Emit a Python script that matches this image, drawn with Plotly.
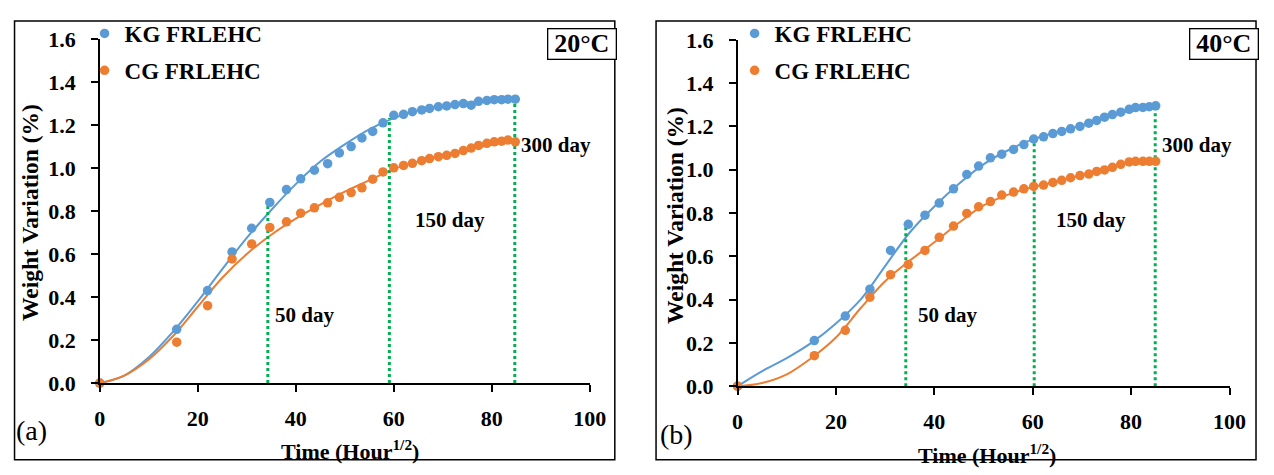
import plotly.graph_objects as go

W, H = 1274, 475
FONT = "Liberation Serif"
BLUE = "#5B9BD5"
ORANGE = "#ED7D31"
GREEN = "#00B050"

# ---------------- data: 20 C ----------------
t20 = [0, 15.7, 22.0, 27.0, 31.0, 34.7, 38.1, 41.0, 43.8, 46.5, 48.9, 51.3, 53.5, 55.7, 57.8,
       60.0, 62.0, 63.8, 65.7, 67.3, 69.1, 70.8, 72.5, 74.2, 75.8, 77.3, 79.0, 80.5, 82.0, 83.3, 84.8]
kg20 = [0, 0.25, 0.43, 0.61, 0.72, 0.84, 0.90, 0.95, 0.99, 1.02, 1.07, 1.10, 1.14, 1.17, 1.21,
        1.245, 1.25, 1.262, 1.27, 1.277, 1.285, 1.289, 1.295, 1.30, 1.292, 1.31, 1.314, 1.318, 1.318, 1.32, 1.32]
cg20 = [0, 0.19, 0.36, 0.577, 0.647, 0.724, 0.75, 0.79, 0.815, 0.838, 0.864, 0.886, 0.908, 0.948, 0.982,
        1.001, 1.012, 1.022, 1.034, 1.044, 1.053, 1.059, 1.068, 1.081, 1.093, 1.105, 1.115, 1.122, 1.125, 1.13, 1.122]

fit_t = [0, 5, 10, 15, 20, 25, 30, 35, 40, 45, 50, 55, 60, 65, 70, 75, 80, 85]
kg20_fit = [0, 0.035, 0.12, 0.24, 0.38, 0.53, 0.675, 0.805, 0.925, 1.03, 1.11, 1.18, 1.232, 1.268, 1.29, 1.305, 1.315, 1.32]
cg20_fit = [0, 0.035, 0.11, 0.22, 0.355, 0.49, 0.60, 0.69, 0.765, 0.83, 0.89, 0.943, 0.995, 1.03, 1.06, 1.085, 1.108, 1.125]

v20_x = [34.3, 59.1, 84.7]
v20_top = [0.84, 1.233, 1.31]

# ---------------- data: 40 C ----------------
t40 = [0, 15.6, 21.9, 26.9, 31.1, 34.7, 38.1, 41.0, 43.9, 46.6, 49.0, 51.4, 53.7, 56.1, 58.2,
       60.2, 62.2, 64.1, 65.9, 67.7, 69.6, 71.4, 73.0, 74.6, 76.2, 77.9, 79.6, 80.9, 82.4, 83.7, 85.0]
kg40 = [0, 0.211, 0.324, 0.448, 0.627, 0.748, 0.79, 0.846, 0.912, 0.978, 1.017, 1.055, 1.072, 1.094, 1.116,
        1.142, 1.152, 1.167, 1.177, 1.189, 1.20, 1.215, 1.228, 1.243, 1.255, 1.266, 1.279, 1.287, 1.288, 1.291, 1.295]
cg40 = [0, 0.141, 0.258, 0.411, 0.515, 0.562, 0.627, 0.688, 0.74, 0.798, 0.829, 0.853, 0.883, 0.897, 0.912,
        0.923, 0.929, 0.941, 0.951, 0.963, 0.973, 0.98, 0.992, 0.999, 1.011, 1.025, 1.036, 1.039, 1.039, 1.039, 1.039]

kg40_fit = [0, 0.07, 0.13, 0.20, 0.29, 0.40, 0.555, 0.71, 0.83, 0.935, 1.025, 1.09, 1.14, 1.175, 1.205, 1.24, 1.275, 1.295]
cg40_fit = [0, 0.015, 0.055, 0.13, 0.225, 0.36, 0.485, 0.58, 0.665, 0.755, 0.835, 0.885, 0.92, 0.945, 0.975, 1.005, 1.033, 1.04]

v40_x = [34.2, 60.3, 84.9]
v40_top = [0.737, 1.148, 1.313]

day_labels = ["50 day", "150 day", "300 day"]
lab20_x = [35.4, 64.0, 85.5]
lab20_y = [0.316, 0.76, 1.109]
lab40_x = [36.3, 64.3, 85.8]
lab40_y = [0.328, 0.766, 1.113]

series_names = ["KG FRLEHC", "CG FRLEHC"]
x_ticks = [0, 20, 40, 60, 80, 100]
y_ticks = [0.0, 0.2, 0.4, 0.6, 0.8, 1.0, 1.2, 1.4, 1.6]

fig = go.Figure()


def add_panel(xr, yr, t, kg, cg, kgf, cgf, vx, vtop, lx, ly, legend_name):
    fig.add_trace(go.Scatter(x=fit_t, y=kgf, mode="lines", line=dict(color=BLUE, width=2, shape="spline", smoothing=1.0),
                             xaxis=xr, yaxis=yr, showlegend=False, hoverinfo="skip", cliponaxis=False))
    fig.add_trace(go.Scatter(x=fit_t, y=cgf, mode="lines", line=dict(color=ORANGE, width=2, shape="spline", smoothing=1.0),
                             xaxis=xr, yaxis=yr, showlegend=False, hoverinfo="skip", cliponaxis=False))
    for xv, top in zip(vx, vtop):
        fig.add_trace(go.Scatter(x=[xv, xv], y=[0, top], mode="lines", line=dict(color=GREEN, width=3, dash="dot"),
                                 xaxis=xr, yaxis=yr, showlegend=False, hoverinfo="skip"))
    fig.add_trace(go.Scatter(x=t, y=kg, mode="markers", marker=dict(color=BLUE, size=9.5), name=series_names[0],
                             xaxis=xr, yaxis=yr, legend=legend_name, legendgroup=legend_name + "a", cliponaxis=False))
    fig.add_trace(go.Scatter(x=t, y=cg, mode="markers", marker=dict(color=ORANGE, size=9.5), name=series_names[1],
                             xaxis=xr, yaxis=yr, legend=legend_name, legendgroup=legend_name + "b", cliponaxis=False))
    for txt, xv, yv in zip(day_labels, lx, ly):
        fig.add_annotation(x=xv, y=yv, xref=xr, yref=yr, text="<b>%s</b>" % txt, showarrow=False,
                           xanchor="left", yanchor="middle", font=dict(family=FONT, size=21, color="black"))


add_panel("x", "y", t20, kg20, cg20, kg20_fit, cg20_fit, v20_x, v20_top, lab20_x, lab20_y, "legend")
add_panel("x2", "y2", t40, kg40, cg40, kg40_fit, cg40_fit, v40_x, v40_top, lab40_x, lab40_y, "legend2")

tickfont = dict(family=FONT, size=22, color="black", weight="bold")
ax_common = dict(showgrid=False, zeroline=False, showline=True, linecolor="black", linewidth=1.5,
                 ticks="outside", ticklen=7, tickwidth=1.5, tickcolor="black", tickfont=tickfont)

legend_font = dict(family=FONT, size=23, color="black", weight="bold")

fig.update_layout(
    width=W, height=H, margin=dict(l=0, r=0, t=0, b=0),
    paper_bgcolor="white", plot_bgcolor="white",
    xaxis=dict(domain=[95.5 / W, 594.5 / W], range=[0, 100], tickvals=x_ticks, anchor="y",
               ticklabelstandoff=8, **ax_common),
    yaxis=dict(domain=[1 - 391.7 / H, 1 - 28.5 / H], range=[0, 1.6], tickvals=y_ticks, tickformat=".1f",
               anchor="x", ticklabelstandoff=11, **ax_common),
    xaxis2=dict(domain=[745 / W, 1246 / W], range=[0, 100], tickvals=x_ticks, anchor="y2",
                ticklabelstandoff=8, **ax_common),
    yaxis2=dict(domain=[1 - 395 / H, 1 - 29.4 / H], range=[0, 1.6], tickvals=y_ticks, tickformat=".1f",
                anchor="x2", ticklabelstandoff=11, **ax_common),
    legend=dict(x=80 / W, y=1.0, xanchor="left", yanchor="top", bgcolor="rgba(0,0,0,0)",
                font=legend_font, tracegroupgap=4, itemwidth=30),
    legend2=dict(x=742 / W, y=1.0, xanchor="left", yanchor="top", bgcolor="rgba(0,0,0,0)",
                 font=legend_font, tracegroupgap=4, itemwidth=30),
    showlegend=True,
)

# panel frames
for x0, x1 in [(8.7, 620), (662, 1273)]:
    fig.add_shape(type="rect", xref="paper", yref="paper", x0=x0 / W, x1=x1 / W, y0=1 - 472.5 / H, y1=1 - 9.5 / H,
                  line=dict(color="black", width=1.5), fillcolor="rgba(0,0,0,0)", layer="below")

# axis titles
for cx, cy in [(350, 462), (999, 467)]:
    fig.add_annotation(x=cx / W, y=1 - cy / H, xref="paper", yref="paper", showarrow=False,
                       text="<b>Time (Hour<sup>1/2</sup>)</b>", font=dict(family=FONT, size=22, color="black"),
                       xanchor="center", yanchor="middle")
for cx, cy in [(24.5, 212), (680.5, 215)]:
    fig.add_annotation(x=cx / W, y=1 - cy / H, xref="paper", yref="paper", showarrow=False, textangle=-90,
                       text="<b>Weight Variation (%)</b>", font=dict(family=FONT, size=23.5, color="black"),
                       xanchor="center", yanchor="middle")

# panel letters
for txt, cx, cy in [("(a)", 26, 442), ("(b)", 683, 446)]:
    fig.add_annotation(x=cx / W, y=1 - cy / H, xref="paper", yref="paper", showarrow=False, text=txt,
                       font=dict(family=FONT, size=28, color="black"), xanchor="center", yanchor="middle")

# temperature boxes
for txt, cx, cy in [("20°C", 587, 34.3), ("40°C", 1240, 34)]:
    fig.add_annotation(x=cx / W, y=1 - cy / H, xref="paper", yref="paper", showarrow=False, text="<b>%s</b>" % txt,
                       font=dict(family=FONT, size=26, color="black"), xanchor="center", yanchor="middle",
                       width=65, height=27, align="center", valign="middle",
                       bordercolor="black", borderwidth=1.3, borderpad=1, bgcolor="white")

fig.write_html("out.html")
